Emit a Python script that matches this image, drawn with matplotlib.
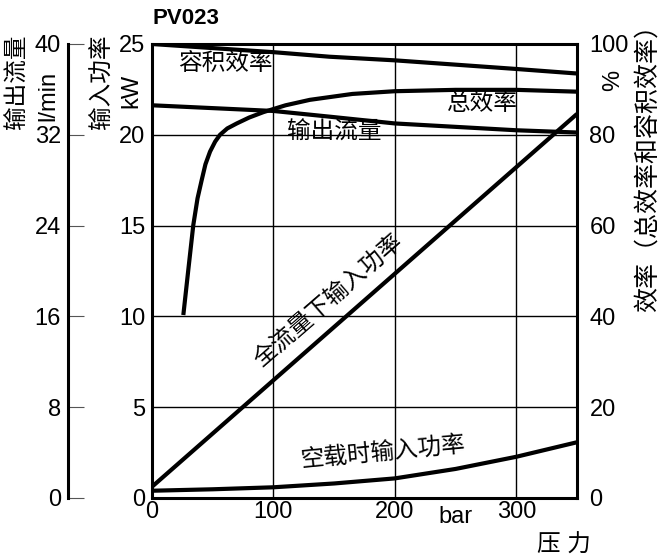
import matplotlib
matplotlib.use("Agg")
import matplotlib.pyplot as plt
import numpy as np

plt.rcParams['font.family'] = ['Liberation Sans', 'Noto Sans CJK SC', 'DejaVu Sans']

# volumetric efficiency (%) vs pressure (bar)
p_vol = [0, 100, 146, 200, 300, 350]
vol_eff = [100, 98.2, 97.2, 96.4, 94.5, 93.5]

# output flow (l/min) vs pressure (bar)
p_flow = [0, 100, 146, 200, 300, 350]
flow = [34.6, 34.1, 33.6, 33.0, 32.4, 32.2]

# overall efficiency (%)
p_eff = [25.8, 30, 34.0, 37.5, 40.9, 44, 47.8, 52, 56, 62, 69.8, 80, 91.8, 110, 130, 165, 200, 250, 300, 350]
tot_eff = [40.3, 50.5, 60.1, 66.0, 70.0, 73.5, 76.3, 78.5, 80.0, 81.4, 82.5, 83.8, 85.0, 86.5, 87.7, 89.0, 89.6, 89.9, 89.9, 89.5]

# input power at full flow (kW)
p_full = [0, 350]
pw_full = [0.62, 21.15]

# input power at zero flow (kW)
p_idle = [0, 50, 100, 150, 200, 250, 300, 350]
pw_idle = [0.4, 0.48, 0.59, 0.8, 1.08, 1.6, 2.27, 3.07]

x_ticks = [0, 100, 200, 300]
kw_ticks = [0, 5, 10, 15, 20, 25]
flow_ticks = [0, 8, 16, 24, 32, 40]
pct_ticks = [0, 20, 40, 60, 80, 100]

W, H = 662, 557
fig = plt.figure(figsize=(W / 100, H / 100), dpi=100)

def frac(x0, y0, x1, y1):
    return [x0 / W, 1 - y1 / H, (x1 - x0) / W, (y1 - y0) / H]

ax = fig.add_axes(frac(152, 44, 577, 498))
ax.set_xlim(0, 350)
ax.set_ylim(0, 25)
fs = 17
cfs = 17

# grid
for xv in x_ticks[1:]:
    ax.axvline(xv, color='black', lw=1.0, zorder=1)
for yv in kw_ticks[1:-1]:
    ax.axhline(yv, color='black', lw=1.0, zorder=1)

for s in ax.spines.values():
    s.set_linewidth(2.2)

ax.set_xticks(x_ticks)
ax.set_xticklabels([str(v) for v in x_ticks], fontsize=fs)
ax.set_yticks(kw_ticks)
ax.set_yticklabels([str(v) for v in kw_ticks], fontsize=fs)
ax.tick_params(axis='both', length=0)
ax.tick_params(axis='x', pad=2)
ax.tick_params(axis='y', pad=5)
ax.text(250, -0.42, 'bar', fontsize=fs, ha='center', va='top')

# efficiency axis on the right (0-100 %)
ax_pct = ax.twinx()
ax_pct.set_ylim(0, 100)
ax_pct.set_yticks(pct_ticks)
ax_pct.set_yticklabels([str(v) for v in pct_ticks], fontsize=fs)
ax_pct.tick_params(axis='y', length=0, pad=9)
for s in ax_pct.spines.values():
    s.set_visible(False)

# flow axis on the far left
ax_flow = fig.add_axes(frac(68, 44, 100, 498))
ax_flow.set_ylim(0, 40)
ax_flow.set_xticks([])
ax_flow.set_yticks(flow_ticks)
ax_flow.set_yticklabels([str(v) for v in flow_ticks], fontsize=fs)
ax_flow.tick_params(axis='y', direction='in', length=11.5, width=0.8,
                    color='#555555', pad=5)
ax_flow.patch.set_alpha(0)
for k in ['top', 'right', 'bottom']:
    ax_flow.spines[k].set_visible(False)
ax_flow.spines['left'].set_linewidth(2.2)

# curves
lw = 3.0
ax_pct.plot(p_vol, vol_eff, color='black', lw=lw, solid_capstyle='butt')
ax_pct.plot(p_eff, tot_eff, color='black', lw=lw, solid_capstyle='butt')
ax_pct.plot(p_flow, np.array(flow) * 2.5, color='black', lw=lw, solid_capstyle='butt')
ax.plot(p_full, pw_full, color='black', lw=lw, solid_capstyle='butt')
ax.plot(p_idle, pw_idle, color='black', lw=lw, solid_capstyle='butt')

# curve labels
ax.text(60, 23.9, '容积效率', fontsize=cfs, ha='center', va='center')
ax.text(150, 20.1, '输出流量', fontsize=cfs, ha='center', va='center')
ax.text(272, 21.7, '总效率', fontsize=cfs, ha='center', va='center')
ax.text(146, 10.8, '全流量下输入功率', fontsize=cfs, ha='center', va='center',
        rotation=41, rotation_mode='anchor')
ax.text(190, 2.5, '空载时输入功率', fontsize=cfs, ha='center', va='center',
        rotation=5.5, rotation_mode='anchor')

# axis titles
fig.text(152 / W, 1 - 19 / H, 'PV023', fontsize=16, fontweight='bold',
         ha='left', va='center')
fig.text(18 / W, 1 - 82 / H, '输出流量', fontsize=cfs, rotation=90,
         ha='center', va='center')
fig.text(48 / W, 1 - 96 / H, 'l/min', fontsize=fs, rotation=90,
         ha='center', va='center')
fig.text(103 / W, 1 - 82 / H, '输入功率', fontsize=cfs, rotation=90,
         ha='center', va='center')
fig.text(131 / W, 1 - 91 / H, 'kW', fontsize=fs, rotation=90,
         ha='center', va='center')
fig.text(613 / W, 1 - 80 / H, '%', fontsize=fs, rotation=90,
         ha='center', va='center')
fig.text(648 / W, 1 - 162 / H, '效率（总效率和容积效率）', fontsize=18,
         rotation=90, ha='center', va='center')
fig.text(564 / W, 1 - 546 / H, '压 力', fontsize=cfs, ha='center', va='center')
fig.text(564 / W, 1 - 3 / H, '压 力', fontsize=cfs, ha='center', va='bottom')

fig.savefig('out.png', dpi=100)
